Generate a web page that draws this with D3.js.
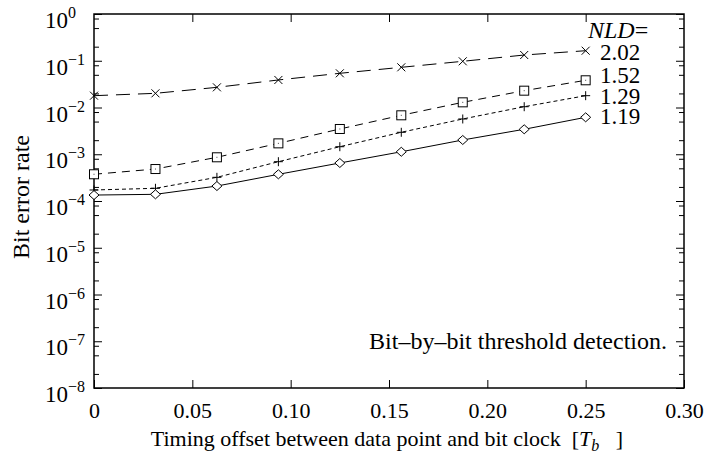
<!DOCTYPE html>
<html>
<head>
<meta charset="utf-8">
<script src="https://cdn.jsdelivr.net/npm/d3@7"></script>
<style>
  html, body { margin: 0; padding: 0; background: #fff; }
  svg { display: block; font-family: "Liberation Serif", "Times New Roman", serif; }
</style>
</head>
<body>
<svg id="chart" width="713" height="461"></svg>
<script>
// ---------------- data ----------------
const timingOffsets = [0, 0.03125, 0.0625, 0.09375, 0.125, 0.15625, 0.1875, 0.21875, 0.25];
const nldLabels = ["2.02", "1.52", "1.29", "1.19"];
const ber202 = [0.0179, 0.0201, 0.0270, 0.0388, 0.0539, 0.0724, 0.0973, 0.1327, 0.164];
const ber152 = [3.73e-4, 4.83e-4, 8.61e-4, 1.71e-3, 3.47e-3, 6.81e-3, 1.29e-2, 2.29e-2, 3.82e-2];
const ber129 = [1.72e-4, 1.87e-4, 3.21e-4, 6.93e-4, 1.45e-3, 2.95e-3, 5.68e-3, 1.04e-2, 1.79e-2];
const ber119 = [1.34e-4, 1.39e-4, 2.09e-4, 3.72e-4, 6.50e-4, 1.13e-3, 2.02e-3, 3.42e-3, 6.17e-3];
const xTickValues = [0, 0.05, 0.10, 0.15, 0.20, 0.25, 0.30];
const xTickLabels = ["0", "0.05", "0.10", "0.15", "0.20", "0.25", "0.30"];
const yDecadeExponents = [0, -1, -2, -3, -4, -5, -6, -7, -8];
const yMinorMultipliers = [2, 5, 8];

// ---------------- layout ----------------
const L = 94, R = 684, T = 14, B = 388;
const svg = d3.select("#chart");
const x = d3.scaleLinear().domain([0, 0.30]).range([L, R]);
const y = d3.scaleLog().domain([1e-8, 1]).range([B, T]);

const majorY = yDecadeExponents.map(e => Math.pow(10, e));
const minorY = [];
yDecadeExponents.slice(1).forEach(e => yMinorMultipliers.forEach(m => minorY.push(m * Math.pow(10, e))));

const fmtX = d => xTickLabels[xTickValues.indexOf(d)];

// bottom axis with labels
const gB = svg.append("g").attr("transform", `translate(0,${B})`)
  .call(d3.axisBottom(x).tickValues(xTickValues).tickSizeInner(-8).tickSizeOuter(0).tickPadding(14).tickFormat(fmtX));
gB.selectAll("text").attr("font-size", 22).attr("font-family", "Liberation Serif").attr("fill", "#000");
// top axis ticks
svg.append("g").attr("transform", `translate(0,${T})`)
  .call(d3.axisTop(x).tickValues(xTickValues.slice(1, -1)).tickSizeInner(-8).tickSizeOuter(0).tickFormat(""));
// left ticks
svg.append("g").attr("transform", `translate(${L},0)`)
  .call(d3.axisLeft(y).tickValues(majorY).tickSizeInner(-8).tickSizeOuter(0).tickFormat(""));
svg.append("g").attr("transform", `translate(${L},0)`)
  .call(d3.axisLeft(y).tickValues(minorY).tickSizeInner(-5).tickSizeOuter(0).tickFormat(""));
// right ticks
svg.append("g").attr("transform", `translate(${R},0)`)
  .call(d3.axisRight(y).tickValues(majorY).tickSizeInner(-8).tickSizeOuter(0).tickFormat(""));
svg.append("g").attr("transform", `translate(${R},0)`)
  .call(d3.axisRight(y).tickValues(minorY).tickSizeInner(-5).tickSizeOuter(0).tickFormat(""));
svg.selectAll(".domain").remove();
svg.selectAll(".tick line").attr("stroke", "#000").attr("stroke-width", 1);

// frame
svg.append("rect").attr("x", L).attr("y", T).attr("width", R - L).attr("height", B - T)
  .attr("fill", "none").attr("stroke", "#000").attr("stroke-width", 1.5);

// y tick labels 10^n
yDecadeExponents.forEach(e => {
  const t = svg.append("text").attr("x", 45).attr("y", y(Math.pow(10, e)) + 14)
    .attr("font-size", 23).attr("fill", "#000");
  t.append("tspan").text("10");
  t.append("tspan").attr("dy", -10).attr("font-size", 16).text(e === 0 ? "0" : "\u2212" + Math.abs(e));
});

// axis titles
svg.append("text").attr("transform", `translate(29,${197}) rotate(-90)`)
  .attr("text-anchor", "middle").attr("font-size", 24).attr("fill", "#000").text("Bit error rate");

const xt = svg.append("text").attr("x", 387).attr("y", 446).attr("text-anchor", "middle")
  .attr("font-size", 22).attr("fill", "#000").attr("xml:space", "preserve");
xt.append("tspan").text("Timing offset between data point and bit clock\u00a0\u00a0[");
xt.append("tspan").attr("font-style", "italic").text("T");
xt.append("tspan").attr("font-style", "italic").attr("font-size", 16).attr("dy", 5).text("b");
xt.append("tspan").attr("dy", -5).text("\u00a0\u00a0\u00a0]");

// series
const series = [
  { name: nldLabels[0], values: ber202, dash: "14,8", marker: "x", labelDy: 1 },
  { name: nldLabels[1], values: ber152, dash: "8,6", marker: "square", labelDy: -5 },
  { name: nldLabels[2], values: ber129, dash: "4,3", marker: "plus", labelDy: 0 },
  { name: nldLabels[3], values: ber119, dash: null, marker: "diamond", labelDy: -1 }
];

const line = d3.line().x((d, i) => x(timingOffsets[i])).y(d => y(d));

series.forEach(s => {
  svg.append("path").datum(s.values).attr("d", line)
    .attr("fill", "none").attr("stroke", "#000").attr("stroke-width", 1)
    .attr("stroke-dasharray", s.dash);
  const g = svg.append("g");
  s.values.forEach((v, i) => {
    const cx = x(timingOffsets[i]), cy = y(v);
    if (s.marker === "x") {
      g.append("path").attr("d", `M${cx-4},${cy-4}L${cx+4},${cy+4}M${cx-4},${cy+4}L${cx+4},${cy-4}`)
        .attr("stroke", "#000").attr("stroke-width", 1).attr("fill", "none");
    } else if (s.marker === "plus") {
      g.append("path").attr("d", `M${cx-4.5},${cy}L${cx+4.5},${cy}M${cx},${cy-4.5}L${cx},${cy+4.5}`)
        .attr("stroke", "#000").attr("stroke-width", 1).attr("fill", "none");
    } else if (s.marker === "square") {
      g.append("rect").attr("x", cx - 4.5).attr("y", cy - 4.5).attr("width", 9).attr("height", 9)
        .attr("fill", "#fff").attr("stroke", "#000").attr("stroke-width", 1);
      g.append("rect").attr("x", cx - 0.5).attr("y", cy - 0.5).attr("width", 1).attr("height", 1).attr("fill", "#444");
    } else if (s.marker === "diamond") {
      g.append("path").attr("d", `M${cx},${cy-4.5}L${cx+5},${cy}L${cx},${cy+4.5}L${cx-5},${cy}Z`)
        .attr("fill", "#fff").attr("stroke", "#000").attr("stroke-width", 1);
    }
  });
  // label
  svg.append("text").attr("x", 600).attr("y", y(s.values[s.values.length - 1]) + s.labelDy + 8)
    .attr("font-size", 23).attr("fill", "#000").text(s.name);
});

// legend title
const nt = svg.append("text").attr("x", 588).attr("y", 38).attr("font-size", 24).attr("fill", "#000");
nt.append("tspan").attr("font-style", "italic").text("NLD");
nt.append("tspan").text("=");

// annotation
svg.append("text").attr("x", 667).attr("y", 349).attr("text-anchor", "end")
  .attr("font-size", 24).attr("fill", "#000").text("Bit\u2013by\u2013bit threshold detection.");
</script>
</body>
</html>
